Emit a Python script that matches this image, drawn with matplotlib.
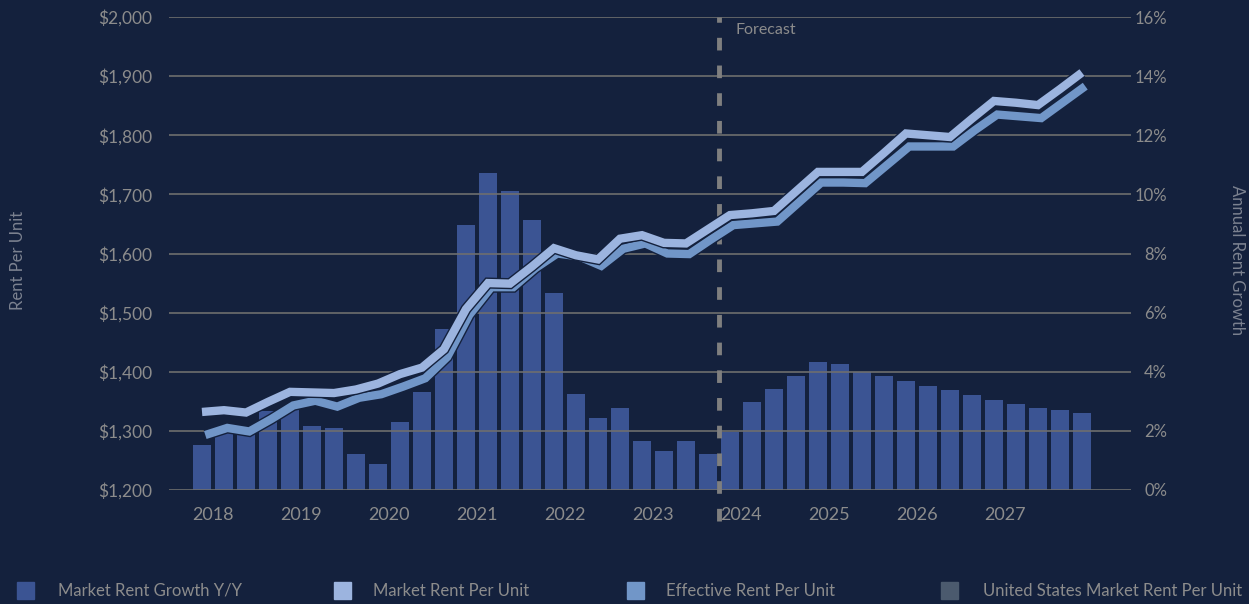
import numpy as np
import matplotlib
matplotlib.use("Agg")
import matplotlib.pyplot as plt
import matplotlib.patheffects as pe
from matplotlib.patches import Rectangle
from matplotlib.ticker import FuncFormatter

plt.rcParams['font.family'] = ['Lato', 'DejaVu Sans']

# quarterly, 2017 Q4 .. 2027 Q4
growth = [1.52, 1.95, 1.92, 2.67, 2.76, 2.16, 2.10, 1.22, 0.88, 2.30,
          3.32, 5.45, 8.96, 10.72, 10.11, 9.13, 6.66, 3.25, 2.44, 2.77,
          1.66, 1.32, 1.66, 1.22, 1.96, 2.98, 3.42, 3.86, 4.33, 4.26,
          3.99, 3.86, 3.69, 3.52, 3.38, 3.21, 3.04, 2.91, 2.77, 2.71, 2.60]

market_rent = [1332, 1335, 1331, 1349, 1366, 1365, 1364, 1370, 1380, 1396,
               1407, 1438, 1506, 1550, 1549, 1578, 1609, 1597, 1590, 1625,
               1631, 1618, 1617, 1641, 1665, 1668, 1672, 1705, 1738, 1738,
               1738, 1770, 1803, 1800, 1797, 1828, 1858, 1855, 1851, 1878, 1906]

effective_rent = [1293, 1305, 1299, 1320, 1343, 1351, 1341, 1356, 1362, 1375,
                  1389, 1425, 1496, 1543, 1543, 1575, 1600, 1595, 1579, 1608,
                  1617, 1600, 1599, 1624, 1648, 1651, 1654, 1687, 1720, 1720,
                  1719, 1750, 1781, 1781, 1781, 1809, 1835, 1832, 1829, 1856, 1883]

years = ['2018', '2019', '2020', '2021', '2022', '2023', '2024', '2025', '2026', '2027']
legend_labels = ['Market Rent Growth Y/Y', 'Market Rent Per Unit',
                 'Effective Rent Per Unit', 'United States Market Rent Per Unit']

bg = '#14213d'
bar_col = '#3b5493'
mkt_col = '#9cb4df'
eff_col = '#7196c8'
us_col = '#4b5a6e'
txt = '#8c8c8c'
grid_col = '#6e6e6e'

x = np.arange(len(growth))

fig = plt.figure(figsize=(12.49, 6.04), dpi=100, facecolor=bg)
ax = fig.add_axes([169/1249, 1-490/604, 962/1249, 473/604])
ax.set_facecolor(bg)
ax2 = ax.twinx()

# bars on the growth scale (ticks on the right)
ax.bar(x, growth, width=0.82, color=bar_col, zorder=1)
ax.set_ylim(0, 16)
ax.set_xlim(-1.5, 42.23)
ax.yaxis.tick_right()
ax.set_yticks(np.arange(0, 17, 2))
ax.yaxis.set_major_formatter(FuncFormatter(lambda v, p: f'{v:.0f}%'))
ax.tick_params(axis='y', length=0, pad=26, labelsize=12, labelcolor=txt)
for t in ax.yaxis.get_major_ticks():
    t.label2.set_horizontalalignment('right')
ax.set_xticks(np.arange(0, 40, 4) + 0.5)
ax.set_xticklabels(years)
ax.tick_params(axis='x', length=0, pad=12, labelsize=13, labelcolor=txt)
ax.set_axisbelow(False)
ax.grid(axis='y', color=grid_col, linewidth=1.2, zorder=2)
ax.grid(axis='x', visible=False)
for s in ax.spines.values():
    s.set_visible(False)

# forecast divider
ax.axvline(23.5, ymin=-0.065, ymax=1.0, color='#7f7f7f', linewidth=3.5,
           linestyle=(0, (2.6, 3.1)), clip_on=False, zorder=3)
ax.text(24.25, 15.55, 'Forecast', color=txt, fontsize=11.5, va='center', ha='left')

# rent lines on the dollar scale (ticks on the left)
ax2.set_ylim(1200, 2000)
ax2.yaxis.tick_left()
ax2.set_yticks(np.arange(1200, 2001, 100))
ax2.yaxis.set_major_formatter(FuncFormatter(lambda v, p: f'${v:,.0f}'))
ax2.tick_params(axis='y', length=0, pad=12, labelsize=12.5, labelcolor=txt)
for s in ax2.spines.values():
    s.set_visible(False)

outline = [pe.Stroke(linewidth=8, foreground=bg), pe.Normal()]
ax2.plot(x + 0.15, effective_rent, color=eff_col, linewidth=6, solid_joinstyle='miter',
         solid_capstyle='butt', path_effects=outline)
ax2.plot(x, market_rent, color=mkt_col, linewidth=6, solid_joinstyle='miter',
         solid_capstyle='butt', path_effects=outline)

fig.text(18/1249, 1-260/604, 'Rent Per Unit', rotation=90, color='#7c8290',
         fontsize=12, ha='center', va='center')
fig.text(1237/1249, 1-260/604, 'Annual Rent Growth', rotation=-90, color='#7c8290',
         fontsize=12, ha='center', va='center')

# legend
sq_x = [17, 334, 627, 941]
tx_x = [58, 373, 666, 983]
cols = [bar_col, mkt_col, eff_col, us_col]
for sx, tx, c, lab in zip(sq_x, tx_x, cols, legend_labels):
    fig.add_artist(Rectangle((sx/1249, 1-599/604), 17/1249, 17/604,
                             transform=fig.transFigure, color=c))
    fig.text(tx/1249, 1-591/604, lab, color=txt, fontsize=12, ha='left', va='center')

fig.savefig('out.png', dpi=100, facecolor=bg)
